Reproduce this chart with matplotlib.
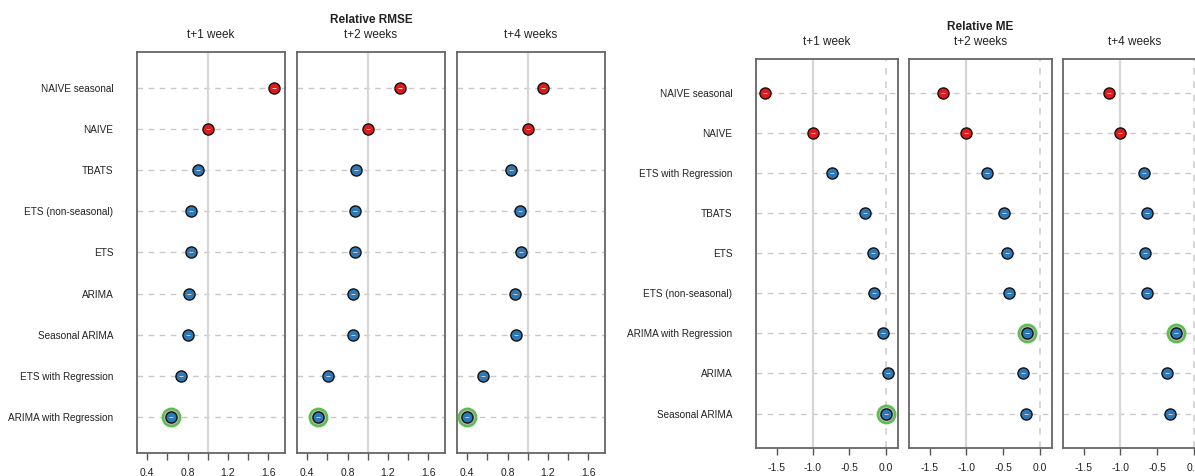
import numpy as np
import matplotlib
matplotlib.use("Agg")
import matplotlib.pyplot as plt

plt.rcParams['font.family'] = ['Liberation Sans', 'DejaVu Sans']

# ---- data (top row first) ----
rmse_labels = ["NAIVE seasonal", "NAIVE", "TBATS", "ETS (non-seasonal)", "ETS",
               "ARIMA", "Seasonal ARIMA", "ETS with Regression", "ARIMA with Regression"]
rmse_w1 = [1.66, 1.00, 0.90, 0.83, 0.83, 0.81, 0.80, 0.73, 0.64]
rmse_w2 = [1.32, 1.00, 0.88, 0.87, 0.87, 0.85, 0.85, 0.61, 0.51]
rmse_w4 = [1.15, 1.00, 0.83, 0.92, 0.93, 0.87, 0.88, 0.56, 0.40]

me_labels = ["NAIVE seasonal", "NAIVE", "ETS with Regression", "TBATS", "ETS",
             "ETS (non-seasonal)", "ARIMA with Regression", "ARIMA", "Seasonal ARIMA"]
me_w1 = [-1.655, -1.00, -0.74, -0.28, -0.17, -0.16, -0.04, 0.03, 0.01]
me_w2 = [-1.32, -1.00, -0.72, -0.49, -0.445, -0.42, -0.17, -0.22, -0.18]
me_w4 = [-1.16, -1.00, -0.68, -0.63, -0.66, -0.63, -0.24, -0.365, -0.32]

horizons = ["t+1 week", "t+2 weeks", "t+4 weeks"]
baselines = ["NAIVE", "NAIVE seasonal"]

rmse_ticks = [0.4, 0.6, 0.8, 1.0, 1.2, 1.4, 1.6]
rmse_ticklabels = ["0.4", "", "0.8", "", "1.2", "", "1.6"]
me_ticks = [-1.5, -1.0, -0.5, 0.0]
me_ticklabels = ["-1.5", "-1.0", "-0.5", "0.0"]

W, H = 1195, 476
fig = plt.figure(figsize=(W / 100, H / 100), dpi=100)

RED = "#e3191c"
BLUE = "#2f78b7"
GREEN = "#5cbf4c"
TXT = "#222222"


def px_axes(x0, x1, y0, y1):
    return fig.add_axes([x0 / W, 1 - y1 / H, (x1 - x0) / W, (y1 - y0) / H])


def panel(ax, vals, labels, xlim, ylim, ref, ticks, ticklabels, show_labels, zero_line, pad):
    n = len(vals)
    y = np.arange(n, 0, -1)
    ax.set_xlim(*xlim)
    ax.set_ylim(*ylim)
    for yy in y:
        ax.axhline(yy, color="#c8c8c8", lw=1, ls=(0, (4, 4)), zorder=1)
    ax.axvline(ref, color="#d6d6d6", lw=1.6, zorder=1)
    if zero_line:
        ax.axvline(0.0, color="#d0d0d0", lw=1.2, ls=(0, (4, 4)), zorder=1)
    vals = np.array(vals)
    best = np.argmin(np.abs(vals)) if zero_line else np.argmin(vals)
    ax.plot(vals[best], y[best], "o", ms=12.5, mfc="#b8b8b8", mec=GREEN, mew=1.8, zorder=3)
    cols = [RED if l in baselines else BLUE for l in labels]
    for v, yy, c in zip(vals, y, cols):
        ax.plot(v, yy, "o", ms=8, mfc=c, mec="#111111", mew=1.0, zorder=4)
        ax.plot(v, yy, "_", ms=2.5, color="#cfcfcf", mew=0.7, zorder=5)
    ax.set_xticks(ticks)
    ax.set_xticklabels(ticklabels, fontsize=7.5, color=TXT)
    ax.tick_params(axis="x", length=5, width=1, color="#555555", pad=6)
    ax.set_yticks(y)
    if show_labels:
        ax.set_yticklabels(labels, fontsize=7.2, color=TXT)
    else:
        ax.set_yticklabels([])
    ax.tick_params(axis="y", length=0, pad=pad)
    for s in ax.spines.values():
        s.set_color("#666666")
        s.set_linewidth(1.3)


# left group: Relative RMSE
rmse_xlim = (0.298, 1.766)
rmse_ylim = (0.125, 9.87)
lx = [(137, 285), (297, 445), (457, 605)]
for i, (vals, (a, b)) in enumerate(zip([rmse_w1, rmse_w2, rmse_w4], lx)):
    ax = px_axes(a, b, 52, 453)
    panel(ax, vals, rmse_labels, rmse_xlim, rmse_ylim, 1.0, rmse_ticks, rmse_ticklabels,
          i == 0, False, 17)
    fig.text((a + b) / 2 / W, 1 - 35 / H, horizons[i], ha="center", va="center",
             fontsize=8.5, color=TXT)
fig.text(371 / W, 1 - 20 / H, "Relative RMSE", ha="center", va="center",
         fontsize=8.5, fontweight="bold", color=TXT)

# right group: Relative ME
me_xlim = (-1.785, 0.17)
me_ylim = (0.14, 9.84)
rx = [(756, 898), (909, 1052), (1063, 1206)]
for i, (vals, (a, b)) in enumerate(zip([me_w1, me_w2, me_w4], rx)):
    ax = px_axes(a, b, 59, 448)
    panel(ax, vals, me_labels, me_xlim, me_ylim, -1.0, me_ticks, me_ticklabels,
          i == 0, True, 17)
    fig.text((a + b) / 2 / W, 1 - 42 / H, horizons[i], ha="center", va="center",
             fontsize=8.5, color=TXT)
fig.text(980.5 / W, 1 - 27 / H, "Relative ME", ha="center", va="center",
         fontsize=8.5, fontweight="bold", color=TXT)

fig.savefig("out.png", dpi=100)
